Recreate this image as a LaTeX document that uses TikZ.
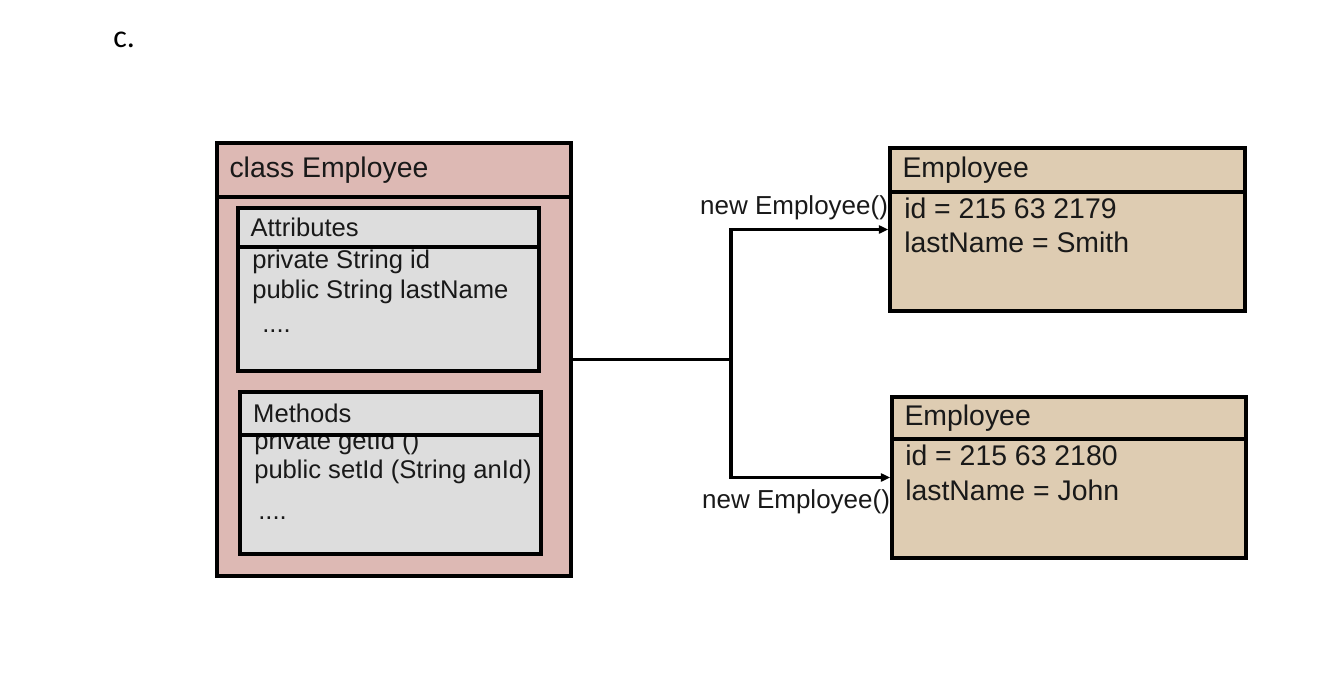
\documentclass[tikz,border=0pt]{standalone}
\usepackage{fontspec}
\setmainfont{Liberation Sans}
\newfontfamily\partfont{Carlito}
\usetikzlibrary{shapes,arrows.meta,positioning}
\definecolor{clspink}{HTML}{DDB9B4}
\definecolor{objtan}{HTML}{DECCB2}
\definecolor{boxgray}{HTML}{DDDDDD}

\begin{document}
\begin{tikzpicture}[x=0.75pt,y=-0.75pt,
  box/.style={draw=black, line width=2.6pt, inner sep=0pt},
  hdrtext/.style={anchor=west, inner sep=0pt, text=black!90, font=\fontsize{21.3}{25}\selectfont},
  smalltext/.style={anchor=west, inner sep=0pt, text=black!90, font=\fontsize{19.2}{23}\selectfont},
  bodytext/.style={anchor=north west, inner sep=0pt, align=left, text=black!90},
  wire/.style={line width=2.3pt},
  arr/.style={line width=2.3pt, -{Triangle[length=7pt,width=6pt]}}]
\useasboundingbox (0,0) rectangle (1340,678);
%Part label
\node[anchor=base west, inner sep=0pt, font=\partfont\fontsize{24}{28}\selectfont] (part) at (113,47) {c.};

%Class box
\node[box, fill=clspink, minimum width=354*.75pt, minimum height=433*.75pt] (cls) at (394,359.5) {};
\node[box, fill=clspink, minimum width=354*.75pt, minimum height=54*.75pt, anchor=north] (clshead) at (cls.north) {};
\node[hdrtext] (clsname) at ([xshift=10.5pt]clshead.west) {class Employee};

%Attributes
\node[box, fill=boxgray, minimum width=301*.75pt, minimum height=163*.75pt] (attr) at (388.5,289.5) {};
\node[bodytext, font=\fontsize{19.2}{23}\selectfont] (attrbody) at (252,249.5)
  {private String id\\ public String lastName\\[2pt] \hspace{7.5pt}....};
\node[box, fill=boxgray, minimum width=301*.75pt, minimum height=39*.75pt, anchor=north] (attrhead) at (attr.north) {};
\node[smalltext] (attrname) at ([xshift=10.5pt]attrhead.west) {Attributes};

%Methods
\node[box, fill=boxgray, minimum width=301*.75pt, minimum height=162*.75pt] (meth) at (390.5,473) {};
\node[bodytext, font=\fontsize{19.2}{21.5}\selectfont] (methbody) at (254,431)
  {private getId ()\\ public setId (String anId)\\[9pt] \hspace{3pt}....};
\node[box, fill=boxgray, minimum width=301*.75pt, minimum height=43*.75pt, anchor=north] (methhead) at (meth.north) {};
\node[smalltext] (methname) at ([xshift=11pt]methhead.west) {Methods};

%Objects
\node[box, fill=objtan, minimum width=355*.75pt, minimum height=163*.75pt] (obj1) at (1067.5,229.5) {};
\node[box, fill=objtan, minimum width=355*.75pt, minimum height=44*.75pt, anchor=north] (obj1head) at (obj1.north) {};
\node[hdrtext] (obj1name) at ([xshift=10.5pt]obj1head.west) {Employee};
\node[bodytext, font=\fontsize{21.3}{25.5}\selectfont] (obj1body) at (904,197.5)
  {id = 215 63 2179\\ lastName = Smith};

\node[box, fill=objtan, minimum width=354*.75pt, minimum height=161*.75pt] (obj2) at (1069,477.5) {};
\node[box, fill=objtan, minimum width=354*.75pt, minimum height=42*.75pt, anchor=north] (obj2head) at (obj2.north) {};
\node[hdrtext] (obj2name) at ([xshift=10.5pt]obj2head.west) {Employee};
\node[bodytext, font=\fontsize{21.3}{26}\selectfont] (obj2body) at (905,444.5)
  {id = 215 63 2180\\ lastName = John};

%Connectors
\coordinate (split) at (731,359.5);
\draw[wire] (cls.east) -- (split);
\draw[arr] (split) |- (obj1.west);
\draw[arr] (split) |- (obj2.west);
\node[smalltext, anchor=east, font=\fontsize{19.5}{23}\selectfont] (new1) at ([yshift=16pt]obj1.west) {new Employee()};
\node[smalltext, anchor=east, font=\fontsize{19.5}{23}\selectfont] (new2) at ([yshift=-18.4pt]obj2.west) {new Employee()};
\end{tikzpicture}
\end{document}
